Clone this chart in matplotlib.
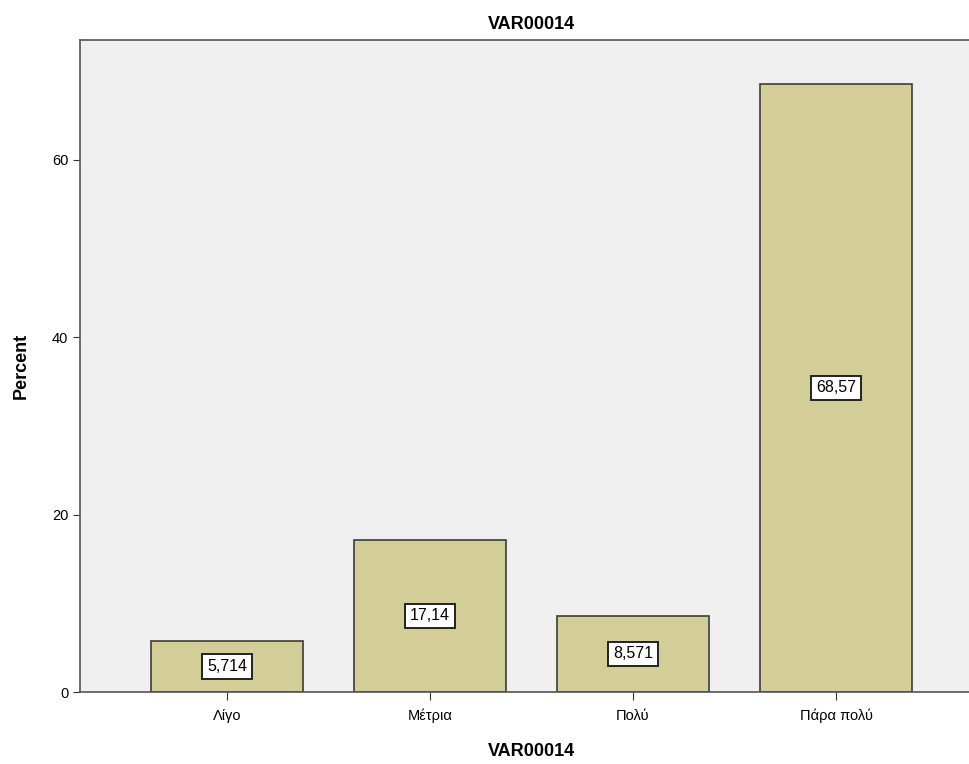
import matplotlib.pyplot as plt
import numpy as np

plt.rcParams['font.family'] = ['Liberation Sans', 'DejaVu Sans']

categories = ['Λίγο', 'Μέτρια', 'Πολύ', 'Πάρα πολύ']
percent = [5.714, 17.14, 8.571, 68.57]
labels = ['5,714', '17,14', '8,571', '68,57']

fig = plt.figure(figsize=(9.69, 7.64), dpi=100)
ax = fig.add_axes([80/969, 1 - 692/764, 903/969, 652/764])
ax.set_facecolor('#f0f0f0')

x = np.arange(len(categories))
ax.bar(x, percent, width=0.75, color='#d3ce97', edgecolor='#3c3c3c', linewidth=1.2, zorder=2)

for xi, v, lab in zip(x, percent, labels):
    ax.text(xi, v / 2, lab, ha='center', va='center', fontsize=11.5, zorder=3,
            bbox=dict(boxstyle='square,pad=0.3', fc='white', ec='#222222', lw=1.4))

ax.set_xlim(-0.724, 3.724)
ax.set_ylim(0, 73.5)
ax.set_xticks(x)
ax.set_xticklabels(categories, fontsize=10.5)
ax.set_yticks([0, 20, 40, 60])
ax.tick_params(axis='y', labelsize=10.5, length=5, color='#333333')
ax.tick_params(axis='x', length=6, color='#333333', pad=6)
for s in ax.spines.values():
    s.set_color('#555555')
    s.set_linewidth(1.2)

ax.set_ylabel('Percent', fontsize=13, fontweight='bold', labelpad=16)
ax.set_xlabel('VAR00014', fontsize=13, fontweight='bold', labelpad=14)
ax.set_title('VAR00014', fontsize=13, fontweight='bold', pad=8)

fig.savefig('out.png', dpi=100)
